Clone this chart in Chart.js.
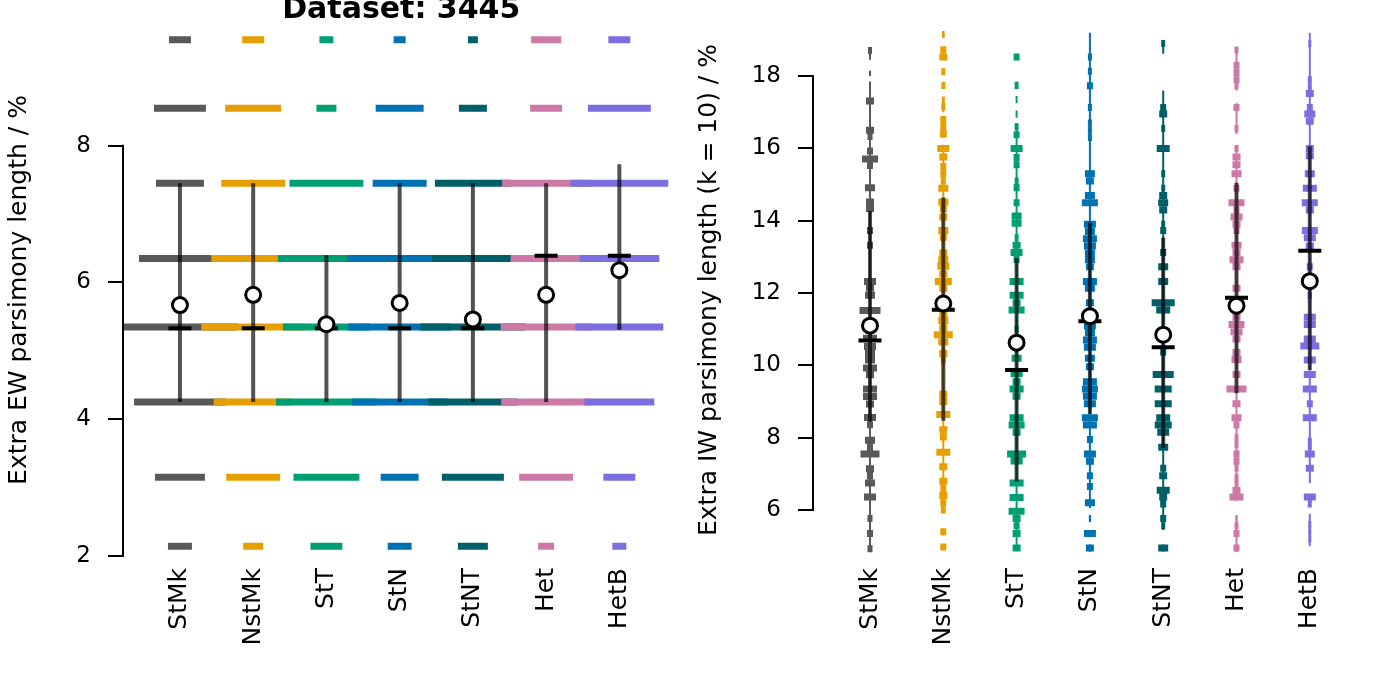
<!DOCTYPE html>
<html lang="en">
<head>
<meta charset="UTF-8">
<title>Dataset: 3445</title>
<script src="https://cdn.jsdelivr.net/npm/chart.js"></script>
<style>
  body { margin: 0; background: #fff; }
  canvas { position: absolute; top: 0; }
</style>
</head>
<body>
<canvas id="ew" width="690" height="691" style="left:0"></canvas>
<canvas id="iw" width="692" height="691" style="left:690px"></canvas>
<script>
const categories = ['StMk', 'NstMk', 'StT', 'StN', 'StNT', 'Het', 'HetB'];
const colours = ['#595959', '#E69F00', '#009E73', '#0072B2', '#005F69', '#CC79A7', '#7B6FE0'];

// ---- EW panel: frequency at each extra-length step ----
const ewSteps = [9.55, 8.55, 7.45, 6.35, 5.35, 4.25, 3.15, 2.14];
const ewStMk  = [22, 52, 48, 82, 114, 92, 50, 24];
const ewNstMk = [22, 56, 64, 84, 104, 79, 54, 20];
const ewStT   = [14, 20, 74, 97, 87, 101, 66, 32];
const ewStN   = [12, 48, 54, 105, 103, 95, 38, 24];
const ewStNT  = [10, 28, 76, 82, 105, 89, 62, 30];
const ewHet   = [30, 32, 88, 71, 91, 90, 54, 16];
const ewHetB  = [22, 63, 98, 80, 88, 70, 32, 14];
const ewLow    = [4.25, 4.25, 4.25, 4.25, 4.25, 4.25, 5.31];
const ewHigh   = [7.45, 7.45, 6.40, 7.45, 7.45, 7.45, 7.73];
const ewMedian = [5.33, 5.33, 5.33, 5.33, 5.33, 6.39, 6.39];
const ewMean   = [5.67, 5.82, 5.39, 5.70, 5.46, 5.82, 6.18];
const ewTicks  = [2, 4, 6, 8];

// ---- IW panel: [value, frequency] and thin runs [top, bottom] ----
const iwStMk = [[18.71,4],[17.31,8],[16.50,8],[16.33,5],[15.93,6],[15.71,16],[15.53,6],[14.91,10],[14.52,8],[14.34,8],[13.73,6],[13.32,6],[12.32,12],[12.14,8],[11.94,10],[11.52,21],[10.75,14],[10.52,12],[10.33,10],[10.15,10],[9.93,14],[9.74,8],[9.35,14],[9.14,14],[8.93,8],[8.56,12],[8.36,6],[7.93,10],[7.74,6],[7.55,19],[7.14,8],[6.95,6],[6.75,10],[6.36,12],[5.77,5],[5.35,6],[4.93,5]];
const iwStMkRuns = [[18.8,18.45],[18.15,18.0],[17.85,4.85]];
const iwNstMk = [[19.15,2.5],[18.73,6],[18.53,8],[18.12,4],[17.74,4],[17.34,3],[17.15,4],[16.80,6],[16.60,6],[16.40,7],[16.0,12],[15.76,8],[15.5,6],[15.3,6],[15.1,5],[14.9,10],[14.52,10],[14.33,7],[14.1,8],[13.73,10],[13.54,7],[13.11,8],[12.92,10],[12.74,12],[12.53,8],[12.32,17],[12.13,8],[11.73,8],[11.42,8],[11.24,10],[11.04,8],[10.85,19],[10.65,10],[10.33,8],[10.15,5],[9.2,8],[9.0,8],[8.64,14],[8.22,8],[8.02,7],[7.6,14],[7.2,8],[6.8,8],[6.6,6],[6.4,8],[6.2,6],[6.0,5],[5.4,6],[4.98,6]];
const iwNstMkRuns = [[19.2,19.05],[18.8,18.5],[18.2,18.05],[17.8,17.65],[17.4,17.0],[16.85,16.3],[16.1,6.0],[5.45,5.3],[5.05,4.9]];
const iwStT = [[18.53,6],[17.74,4],[16.6,4],[16.38,6],[16.0,12],[15.75,6],[15.55,6],[15.1,4],[14.91,6],[14.5,6],[14.13,10],[13.93,10],[13.53,4],[13.32,8],[13.12,12],[12.93,6],[12.32,14],[11.94,14],[11.73,8],[11.53,16],[11.0,4],[10.2,10],[9.77,12],[9.55,8],[9.35,14],[9.15,8],[8.55,14],[8.35,16],[8.15,8],[7.55,19],[7.36,12],[6.75,14],[6.35,14],[5.97,16],[5.77,8],[5.57,6],[5.35,8],[4.95,8]];
const iwStTRuns = [[18.62,18.44],[17.85,17.64],[17.45,17.25],[17.05,16.85],[16.7,4.88]];
const iwStN = [[18.53,4],[18.13,4],[17.73,6],[17.13,4],[16.7,4],[16.5,4],[16.3,4],[15.3,10],[15.1,8],[14.7,10],[14.5,16],[13.9,12],[13.7,10],[13.5,14],[13.3,12],[13.1,10],[12.93,10],[12.73,8],[12.32,14],[12.13,10],[11.73,8],[11.5,8],[11.1,12],[10.9,10],[10.7,14],[10.5,12],[10.2,10],[9.96,8],[9.55,14],[9.35,16],[9.15,14],[8.94,12],[8.55,16],[8.35,14],[7.95,6],[7.55,12],[7.35,8],[6.95,6],[6.65,6],[6.2,10],[5.77,2],[5.35,12],[4.95,8]];
const iwStNRuns = [[19.2,6.05],[5.85,5.7],[5.45,5.25],[5.05,4.85]];
const iwStNT = [[18.9,4],[17.13,6],[16.95,8],[16.55,4],[16.0,13],[15.3,4],[14.9,4],[14.7,8],[14.5,10],[14.3,8],[13.9,4],[13.73,6],[13.12,6],[12.73,10],[12.32,10],[11.73,23],[11.53,14],[10.37,6],[9.75,21],[9.35,17],[8.94,17],[8.55,14],[8.35,17],[8.15,12],[7.74,10],[7.16,6],[6.95,8],[6.55,13],[6.36,8],[6.17,6],[5.77,6],[5.57,4],[4.95,10]];
const iwStNTRuns = [[19.0,18.62],[17.6,5.45],[5.05,4.85]];
const iwHet = [[18.72,4],[18.3,6],[18.1,6],[17.9,6],[17.73,4],[17.13,6],[16.55,4],[16.0,4],[15.76,8],[15.55,8],[15.3,10],[14.9,6],[14.5,16],[14.3,6],[14.1,12],[13.9,8],[13.73,6],[13.32,10],[13.12,8],[12.92,14],[12.73,8],[12.13,8],[11.33,8],[11.13,16],[10.93,12],[10.73,8],[10.36,8],[10.16,10],[9.75,8],[9.35,20],[8.94,8],[8.55,10],[8.35,6],[8.0,4],[7.8,4],[7.55,6],[7.35,6],[7.16,4],[6.9,4],[6.75,4],[6.55,8],[6.36,14],[5.77,2],[5.57,4],[5.35,6],[4.95,6]];
const iwHetRuns = [[18.8,17.6],[17.25,16.4],[16.0,6.25],[5.85,4.85]];
const iwHetB = [[18.9,3],[17.9,4],[17.7,4],[17.52,8],[17.13,6],[16.95,11],[16.75,8],[16.0,8],[15.8,8],[15.3,10],[14.9,14],[14.5,16],[14.3,8],[13.73,16],[13.53,12],[13.3,8],[12.73,6],[11.93,4],[11.33,12],[11.13,12],[10.73,12],[10.54,19],[10.15,12],[9.75,12],[9.35,14],[8.94,6],[8.55,14],[7.9,4],[7.75,4],[7.55,10],[7.16,8],[6.36,12],[6.17,4],[5.6,3],[5.4,3],[5.2,3]];
const iwHetBRuns = [[19.2,6.75],[6.45,6.1],[5.9,5.0]];
const iwLow    = [8.44, 8.47, 6.79, 8.66, 7.72, 9.23, 9.87];
const iwHigh   = [14.27, 14.64, 12.97, 13.95, 13.53, 15.05, 16.06];
const iwMedian = [10.69, 11.54, 9.87, 11.22, 10.50, 11.87, 13.17];
const iwMean   = [11.10, 11.71, 10.63, 11.36, 10.85, 11.65, 12.33];
const iwTicks  = [6, 8, 10, 12, 14, 16, 18];

Chart.defaults.font.family = "'DejaVu Sans', sans-serif";
Chart.defaults.color = '#000';

const PX = 73.3;                 // pixels between category centres
const X_MIN = 1 - 57 / PX;
const X_MAX = X_MIN + 557 / PX;
const TICK_HALF = 11.5 / PX;

function barPoints(centre, rows) {
  const pts = [];
  rows.forEach(([v, w]) => {
    const h = w / 2 / PX;
    pts.push({x: centre - h, y: v}, {x: centre + h, y: v}, {x: centre, y: null});
  });
  return pts;
}

function runPoints(centre, runs) {
  const pts = [];
  runs.forEach(([a, b]) => pts.push({x: centre, y: a}, {x: centre, y: b}, {x: centre, y: null}));
  return pts;
}

function lineSet(data, colour, width, order) {
  return {data, borderColor: colour, borderWidth: width, pointRadius: 0, pointHitRadius: 0,
          spanGaps: false, borderCapStyle: 'butt', order};
}

function summarySets(low, high, median, mean) {
  const range = [], med = [], avg = [];
  categories.forEach((_, i) => {
    const c = i + 1;
    range.push({x: c, y: low[i]}, {x: c, y: high[i]}, {x: c, y: null});
    med.push({x: c - TICK_HALF, y: median[i]}, {x: c + TICK_HALF, y: median[i]}, {x: c, y: null});
    avg.push({x: c, y: mean[i]});
  });
  return [
    lineSet(range, 'rgba(0,0,0,0.68)', 4, 3),
    lineSet(med, '#000', 4, 2),
    {data: avg, showLine: false, pointRadius: 7.5, pointBorderWidth: 3,
     pointBackgroundColor: '#fff', pointBorderColor: '#000', order: 1}
  ];
}

// R style axis line running only between the end ticks
const axisLine = {
  id: 'axisLine',
  afterDatasetsDraw(chart) {
    const s = chart.scales.y, vals = s.ticks.map(t => t.value), ctx = chart.ctx;
    ctx.save();
    ctx.strokeStyle = '#000';
    ctx.lineWidth = 2;
    ctx.beginPath();
    ctx.moveTo(s.right, s.getPixelForValue(Math.min(...vals)) + 1);
    ctx.lineTo(s.right, s.getPixelForValue(Math.max(...vals)) - 1);
    ctx.stroke();
    ctx.restore();
  }
};

function panel(id, datasets, range, ticks, yTitle, title, pad) {
  return new Chart(document.getElementById(id), {
    type: 'line',
    data: {datasets},
    plugins: [axisLine],
    options: {
      responsive: false,
      animation: false,
      devicePixelRatio: 1,
      events: [],
      layout: {padding: pad},
      plugins: {
        legend: {display: false},
        tooltip: {enabled: false},
        title: title ? {
          display: true, text: title, fullSize: false, color: '#000', padding: 0,
          font: {size: 30, weight: 'bold', lineHeight: 20 / 30}
        } : {display: false}
      },
      scales: {
        x: {
          type: 'linear', min: X_MIN, max: X_MAX,
          afterBuildTicks: s => { s.ticks = categories.map((_, i) => ({value: i + 1})); },
          afterFit: s => { s.height = 131; s.paddingLeft = 0; s.paddingRight = 0; },
          grid: {display: false, drawTicks: false},
          border: {display: false},
          ticks: {
            font: {size: 25}, minRotation: 90, maxRotation: 90, autoSkip: false, padding: 8,
            callback: v => categories[Math.round(v) - 1]
          }
        },
        y: {
          min: range[0], max: range[1],
          afterBuildTicks: s => { s.ticks = ticks.map(v => ({value: v})); },
          afterFit: s => { s.width = 123; s.paddingTop = 0; s.paddingBottom = 0; },
          grid: {drawOnChartArea: false, drawTicks: true, tickLength: 15, color: '#000', lineWidth: 2},
          border: {display: false},
          ticks: {font: {size: 23}, padding: 17},
          title: {display: true, text: yTitle, font: {size: 25}, padding: {top: 4, bottom: 0}}
        }
      }
    }
  });
}

// EW panel
const ewFreq = [ewStMk, ewNstMk, ewStT, ewStN, ewStNT, ewHet, ewHetB];
const ewSets = ewFreq.map((f, i) =>
  lineSet(barPoints(i + 1, ewSteps.map((v, k) => [v, f[k]])), colours[i], 7, 20 - i));
panel('ew', ewSets.concat(summarySets(ewLow, ewHigh, ewMedian, ewMean)),
  [1.94, 9.84], ewTicks, 'Extra EW parsimony length / %', 'Dataset: 3445',
  {left: 0, right: 10, top: 0, bottom: 0});

// IW panel
const iwBars = [iwStMk, iwNstMk, iwStT, iwStN, iwStNT, iwHet, iwHetB];
const iwRuns = [iwStMkRuns, iwNstMkRuns, iwStTRuns, iwStNRuns, iwStNTRuns, iwHetRuns, iwHetBRuns];
const iwSets = [];
iwBars.forEach((rows, i) => {
  iwSets.push(lineSet(runPoints(i + 1, iwRuns[i]), colours[i], 2, 40 - i));
  iwSets.push(lineSet(barPoints(i + 1, rows), colours[i], 7, 20 - i));
});
panel('iw', iwSets.concat(summarySets(iwLow, iwHigh, iwMedian, iwMean)),
  [4.62, 19.55], iwTicks, 'Extra IW parsimony length (k = 10) / %', null,
  {left: 0, right: 12, top: 20, bottom: 0});
</script>
</body>
</html>
